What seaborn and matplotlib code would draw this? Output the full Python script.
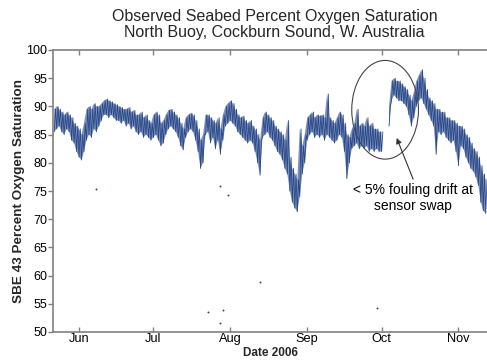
import numpy as np
import pandas as pd
import matplotlib
matplotlib.use("Agg")
import matplotlib.pyplot as plt
import matplotlib.dates as mdates
from matplotlib.patches import Ellipse
import seaborn as sns

# ---------------- data (daily low / high readings, % saturation) ----------------
start_date = "2006-05-22"
end_date = "2006-11-12"

may_low = [85.5, 86, 86.5, 85.5, 85, 86, 85.5, 84, 83.5, 82]
may_high = [89.5, 90, 89.5, 89, 88.5, 89, 88.5, 88, 87, 86.5]

jun_low = [81, 80.5, 82, 84, 85, 84.5, 86, 85.5, 86.5, 87.5, 88.5, 88.5, 88, 88.5, 88,
           87.5, 87.5, 87, 87.5, 86.5, 87, 86, 86.5, 85.5, 85, 85.5, 84.5, 85, 84.5, 84]
jun_high = [86, 85, 87, 89.5, 90, 89.5, 90.5, 90, 90, 90.5, 91, 91.3, 91, 90.8, 90.5,
            90.3, 90, 89.8, 89.5, 89.5, 89.8, 89, 89.3, 88.5, 88.5, 89, 88, 88.5, 87.5, 87]

jul_low = [84.5, 85, 84, 83, 83.5, 85, 86, 86.5, 86, 85.5, 84.5, 83, 82.3, 84.5, 85.5,
           86, 85.5, 84, 82, 79, 80, 85, 85.5, 83.5, 84.5, 82.5, 84, 81.5, 84, 86.5, 87]
jul_high = [88.5, 89, 88.5, 87, 87.5, 88.5, 89.3, 89.5, 89, 88.5, 88, 87, 86, 88, 88.5,
            88.8, 88.5, 87.5, 86, 84, 85, 88.5, 88.5, 88, 87.5, 87, 88, 86, 88.5, 90, 90.5]

aug_low = [87.5, 87, 86.5, 85.5, 85, 84.5, 84, 83.5, 84, 83.5, 82, 80, 77.8, 84.5, 85,
           85.5, 84.5, 84, 83, 82, 81.5, 80.5, 79, 78, 75, 73, 72, 71.3, 74, 78, 80]
aug_high = [91, 90.5, 89.5, 88.5, 88, 88.3, 87.5, 87, 87.5, 86.5, 86, 85, 84, 88, 89,
            88.5, 88, 87.5, 86.5, 86, 85.5, 85, 84, 87.5, 81, 79, 78, 77, 86, 83, 85]

sep_low = [84, 85, 85.5, 84.5, 85, 84.5, 85, 84, 85, 84.5, 84, 83.5, 84, 85, 84.5,
           82, 77.2, 80, 82.5, 83, 83.5, 82.5, 83, 82.5, 83, 82, 82.5, 82, 82.5, 82]
sep_high = [88, 88.5, 89, 88, 88.5, 88.3, 88.5, 88, 92.2, 88, 87.5, 87, 88, 89, 88.5,
            87, 85, 84.5, 86, 87, 89.5, 86.5, 87, 86.5, 88, 86.5, 87, 86, 86, 85.5]

oct_low = [82, np.nan, np.nan, 86.5, 91, 92, 91.5, 91, 91, 90.5, 90, 88.5, 86.5, 88, 90,
           91, 91.5, 90.5, 89.5, 88.5, 87.5, 86.5, 81.5, 85.5, 85, 85.5, 84.5, 84, 83.5, 84, 82]
oct_high = [85.5, np.nan, np.nan, 90, 94.5, 95, 94.5, 94.5, 94, 93.5, 93, 92, 91, 92.5, 94.5,
            95.5, 96.5, 95, 93, 91.5, 91, 90.5, 89.5, 89.5, 89, 89, 88, 88, 87.5, 87.5, 87]

nov_low = [79.5, 83, 82.5, 81, 80, 79, 78.5, 77.5, 76, 73, 71.5, 71]
nov_high = [86.5, 86.5, 86, 85, 84.5, 83.5, 82.5, 82, 81, 79.5, 78, 77]

outlier_dates = ["2006-06-08", "2006-07-23", "2006-07-28", "2006-07-28",
                 "2006-07-29", "2006-07-31", "2006-08-13", "2006-09-29"]
outlier_values = [75.4, 53.5, 51.6, 75.9, 53.9, 74.3, 58.8, 54.3]

title_line1 = "Observed Seabed Percent Oxygen Saturation"
title_line2 = "North Buoy, Cockburn Sound, W. Australia"
y_label = "SBE 43 Percent Oxygen Saturation"
x_label = "Date 2006"
note_text = "< 5% fouling drift at\nsensor swap"

# ---------------- assemble ----------------
lows = np.array(may_low + jun_low + jul_low + aug_low + sep_low + oct_low + nov_low, float)
highs = np.array(may_high + jun_high + jul_high + aug_high + sep_high + oct_high + nov_high, float)
days = pd.date_range(start_date, end_date, freq="D")
seg = np.cumsum(np.isnan(lows))

df = pd.DataFrame({
    "date": np.concatenate([days.values, (days + pd.Timedelta(hours=12)).values]),
    "value": np.concatenate([lows, highs]),
    "seg": np.concatenate([seg, seg]),
}).dropna().sort_values("date")

out_df = pd.DataFrame({"date": pd.to_datetime(outlier_dates), "value": outlier_values})

# ---------------- plot ----------------
sns.set_theme(style="white")
plt.rcParams['font.family'] = ['Liberation Sans', 'DejaVu Sans']

W, H = 487, 360
fig = plt.figure(figsize=(W / 100, H / 100), dpi=100)
ax = fig.add_axes([53 / W, 28 / H, 434 / W, 282 / H])

line_color = "#29488a"
valid = ~np.isnan(lows)
ax.fill_between(days, lows, highs, where=valid, color=line_color, alpha=0.6,
                lw=0, interpolate=False)
sns.lineplot(data=df, x="date", y="value", units="seg", estimator=None,
             color=line_color, lw=0.6, ax=ax)
sns.scatterplot(data=out_df, x="date", y="value", s=2, color=line_color,
                linewidth=0, ax=ax)

ax.set_xlim(pd.Timestamp("2006-05-21 12:00"), pd.Timestamp("2006-11-12 12:00"))
ax.set_ylim(50, 100)
ax.set_yticks(range(50, 101, 5))
ax.xaxis.set_major_locator(mdates.MonthLocator(bymonth=range(6, 12)))
ax.xaxis.set_major_formatter(mdates.DateFormatter("%b"))
ax.set_xlabel("")
ax.set_ylabel("")

spine_c = "#808080"
for s in ["left", "bottom", "top"]:
    ax.spines[s].set_color(spine_c)
    ax.spines[s].set_linewidth(1.2)
ax.spines["right"].set_visible(False)

ax.tick_params(axis="x", direction="in", top=True, bottom=True, length=3.5,
               width=1, color=spine_c, labelsize=9.2, pad=0.8, labelcolor="black")
ax.tick_params(axis="y", direction="out", left=True, length=3.5, width=1,
               color=spine_c, labelsize=9, pad=0.8, labelcolor="black")

# annotation
c_date = mdates.date2num(pd.Timestamp("2006-10-02 10:00"))
ax.add_patch(Ellipse((c_date, 89.4), width=26.9, height=17.5, fill=False,
                     ec="#444444", lw=0.8))
ax.annotate("", xy=(pd.Timestamp("2006-10-07 02:00"), 84.4),
            xytext=(pd.Timestamp("2006-10-13 17:00"), 77.1),
            arrowprops=dict(arrowstyle="-|>", color="#333333", lw=0.8,
                            mutation_scale=8, shrinkA=0, shrinkB=0))
ax.text(pd.Timestamp("2006-10-13 17:00"), 73.8, note_text, ha="center",
        va="center", fontsize=10, color="black", multialignment="center")

fig.text(274.5 / W, 1 - 17 / H, title_line1, ha="center", va="center", fontsize=11.5)
fig.text(274.5 / W, 1 - 33 / H, title_line2, ha="center", va="center", fontsize=11.5)
fig.text(19 / W, 1 - 191 / H, y_label, rotation=90, ha="center", va="center",
         fontsize=9.7, fontweight="bold")
fig.text(270 / W, 0.6 / H, x_label, ha="center", va="bottom",
         fontsize=8.5, fontweight="bold")

fig.savefig("out.png", dpi=100)
